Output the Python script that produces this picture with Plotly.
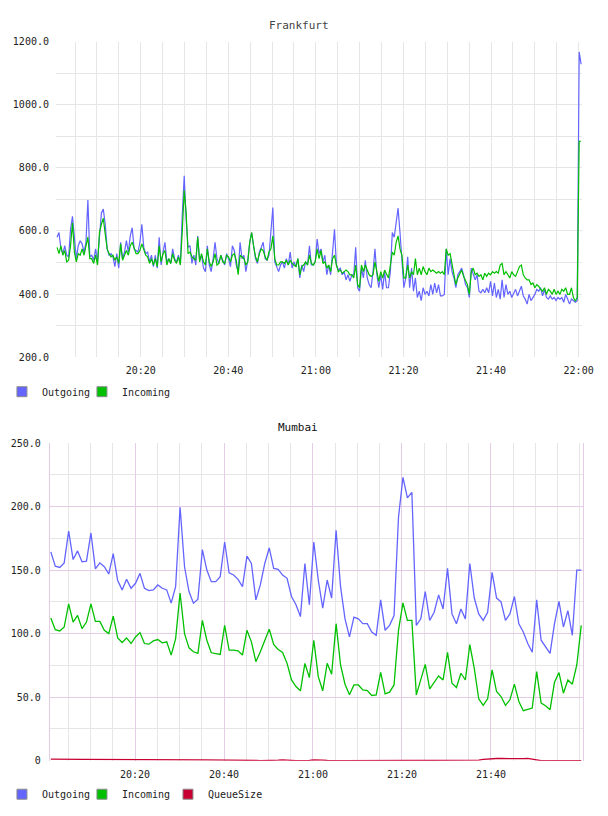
import pandas as pd
import plotly.graph_objects as go

# ---------------- data ----------------
DAY = "2024-01-01"

FRA_TIME_START = DAY + " 20:00:54"
FRA_TIME_END = DAY + " 22:00:34"

fra_outgoing = [
    580, 595, 543, 528, 553, 523, 518, 605, 646, 564,
    512, 553, 569, 559, 533, 564, 698, 518, 523, 507,
    543, 502, 595, 657, 669, 621, 543, 523, 528, 518,
    487, 528, 482, 564, 512, 533, 569, 533, 584, 610,
    543, 538, 533, 564, 621, 548, 528, 533, 502, 523,
    487, 523, 482, 580, 492, 533, 564, 502, 512, 497,
    543, 512, 502, 523, 497, 652, 775, 636, 548, 553,
    497, 523, 492, 584, 507, 523, 482, 471, 553, 492,
    471, 512, 564, 512, 497, 523, 507, 492, 528, 512,
    487, 553, 538, 492, 471, 564, 512, 523, 471, 507,
    564, 595, 553, 512, 497, 533, 548, 564, 512, 507,
    523, 615, 674, 502, 487, 471, 492, 502, 482, 512,
    492, 533, 482, 502, 487, 512, 451, 492, 471, 502,
    492, 553, 492, 492, 502, 574, 528, 543, 502,
    523, 461, 492, 461, 533, 605, 492, 476, 482, 461,
    471, 445, 461, 440, 461, 461, 548, 420, 409, 482,
    451, 507, 451, 430, 420, 471, 543, 461, 420, 461,
    415, 471, 420, 420, 471, 595, 580, 626, 672, 595,
    492, 420, 451, 518, 420, 482, 409, 451, 389, 409,
    379, 420, 399, 409, 394, 430, 399, 435, 404, 430,
    394, 394, 399, 543, 461, 512, 471, 451, 420,
    461, 471, 482, 461, 430, 420, 389, 482, 461, 445,
    461, 409, 404, 415, 404, 420, 404, 440, 394, 435,
    389, 415, 384, 445, 389, 430, 399, 409, 389, 404,
    415, 394, 409, 425, 394, 384, 368, 399, 379, 389,
    399, 415, 409, 420, 394, 415, 389, 384, 394, 384,
    389, 379, 389, 384, 389, 374, 399, 384, 368, 384,
    379, 374, 379, 1167, 1128,
]

fra_incoming = [
    548, 528, 553, 523, 538, 502, 507, 553, 626, 533,
    502, 528, 523, 543, 523, 553, 580, 512, 512, 497,
    523, 492, 595, 621, 640, 590, 543, 528, 518, 523,
    507, 518, 497, 559, 507, 523, 538, 523, 553, 564,
    543, 528, 528, 538, 559, 543, 523, 518, 497, 512,
    492, 512, 487, 553, 502, 528, 538, 492, 512, 497,
    528, 507, 497, 518, 492, 600, 729, 657, 528, 533,
    518, 512, 507, 580, 502, 528, 502, 492, 543, 502,
    487, 502, 528, 492, 497, 523, 502, 497, 523, 518,
    502, 523, 528, 507, 461, 523, 518, 512, 492, 502,
    564, 595, 553, 518, 502, 528, 543, 538, 518, 507,
    533, 543, 584, 512, 492, 492, 502, 502, 497, 507,
    492, 507, 497, 492, 487, 512, 461, 487, 492, 502,
    492, 523, 497, 492, 502, 543, 512, 538, 497,
    502, 482, 492, 471, 512, 523, 492, 471, 476, 466,
    471, 476, 471, 461, 461, 451, 492, 430, 420, 492,
    471, 492, 476, 461, 456, 461, 502, 471, 440, 471,
    451, 476, 461, 451, 492, 533, 523, 564, 584, 543,
    523, 451, 451, 492, 451, 471, 461, 512, 461, 482,
    461, 487, 471, 461, 482, 471, 476, 471, 466, 471,
    466, 471, 461, 543, 523, 528, 492, 461, 430,
    451, 466, 476, 456, 440, 430, 399, 471, 482, 461,
    466, 456, 461, 445, 466, 456, 466, 461, 471, 466,
    471, 466, 492, 497, 461, 471, 461, 451, 471, 461,
    456, 471, 487, 492, 461, 451, 445, 445, 430, 435,
    420, 430, 425, 415, 409, 420, 399, 415, 409, 399,
    415, 399, 409, 399, 415, 409, 420, 399, 399, 420,
    389, 378, 389, 884, 884,
]

MUM_TIME_START = DAY + " 20:01:04"
MUM_TIME_END = DAY + " 22:00:18"

mum_outgoing = [
    164.3, 153.1, 152.1, 155.7, 180.7, 158.3, 165.1, 156.5, 157.0, 179.2,
    151.0, 155.7, 152.6, 146.9, 163.0, 141.7, 134.4, 142.7, 135.7, 139.6,
    147.4, 135.7, 133.9, 134.4, 138.3, 135.7, 134.4, 124.0, 137.0, 199.5,
    152.6, 133.1, 124.0, 127.1, 166.1, 150.0, 140.9, 140.9, 144.8, 172.1,
    147.9, 146.1, 142.7, 137.0, 161.0, 155.2, 126.6, 138.3, 155.2, 167.4,
    151.3, 150.5, 146.1, 143.5, 129.2, 122.7, 113.4,
    155.2, 122.7, 172.1, 142.2, 120.0, 142.2, 127.9, 181.3, 137.0, 111.6,
    97.4, 113.0, 111.6, 107.8, 107.8, 101.3, 98.7, 126.6, 102.6, 106.5,
    114.2, 191.7, 222.9, 206.8, 211.2, 106.5, 111.6, 133.1, 110.4, 116.8,
    130.5, 119.4, 151.3, 115.5, 107.8, 119.4, 111.6, 155.2, 128.0, 115.5,
    110.4, 116.8, 148.2, 128.0, 125.0, 110.4, 115.5, 129.2, 107.8, 101.3,
    92.2, 85.3, 126.6, 94.8, 89.6, 84.5, 107.8, 125.3, 105.2, 118.1,
    98.7, 150.0, 150.0,
]

mum_incoming = [
    112.2, 103.1, 102.1, 105.2, 123.4, 109.1, 114.3, 103.9, 109.1, 123.4,
    109.6, 109.6, 102.6, 100.0, 113.8, 96.6, 93.0, 96.6, 92.2, 97.4,
    100.8, 92.2, 91.7, 94.3, 95.3, 92.7, 93.5, 83.1, 96.1, 132.0,
    100.0, 88.8, 85.7, 84.4, 110.4, 94.8, 84.9, 84.4, 83.6, 106.5,
    87.0, 87.0, 86.5, 83.1, 102.6, 93.5, 77.9, 85.7, 94.8, 103.4,
    91.4, 87.5, 85.2, 76.6, 63.5, 58.3, 55.0, 76.6, 65.4, 94.8,
    66.1, 55.0, 76.6, 68.0, 107.8, 75.3, 60.2, 51.8, 59.6, 59.6,
    55.7, 55.2, 51.3, 51.8, 69.5, 52.6, 53.9, 59.6, 102.6, 124.2,
    110.4, 110.4, 51.8, 63.5, 75.8, 56.5, 61.7, 66.7, 63.5, 85.2,
    60.9, 57.6, 68.8, 63.5, 91.4, 72.7, 48.7, 43.5, 48.7, 71.4,
    54.4, 50.5, 43.5, 47.9, 60.2, 46.6, 39.3, 40.6, 41.4, 70.1,
    45.3, 43.2, 40.1, 61.7, 69.3, 53.1, 63.5, 60.2, 75.3, 106.5,
]

mum_queuesize = [
    1.2, 1.1, 1.0, 1.0, 0.9, 0.9, 0.9, 1.0, 1.0, 1.0,
    1.0, 1.0, 1.1, 1.1, 1.1, 1.2, 1.2, 1.2, 1.2, 1.2,
    1.2, 1.1, 1.1, 1.0, 1.0, 0.9, 0.9, 0.8, 0.8, 0.8,
    0.7, 0.7, 0.7, 0.7, 0.6, 0.6, 0.6, 0.6, 0.5, 0.5,
    0.5, 0.5, 0.4, 0.4, 0.3, 0.3, 0.2, 0.0, 0.0, 0.0,
    0.0, 0.4, 0.6, 0.6, 0.3, 0.0, 0.0, 0.0, 0.3, 0.7,
    0.8, 0.5, 0.2, 0.0, 0.0, 0.0, 0.0, 0.0, 0.0, 0.0,
    0.0, 0.0, 0.0, 0.0, 0.0, 0.0, 0.0, 0.0, 0.0, 0.0,
    0.0, 0.0, 0.0, 0.0, 0.0, 0.0, 0.0, 0.0, 0.0, 0.0,
    0.0, 0.0, 0.0, 0.0, 0.0, 0.0, 0.4, 1.0, 1.4, 1.6,
    1.7, 1.7, 1.6, 1.7, 1.7, 1.5, 1.6, 1.8, 1.2, 0.4,
    0.0, 0.0, 0.0, 0.0, 0.0, 0.0, 0.0, 0.0, 0.0, 0.0,
]

SERIES_NAMES = ["Outgoing", "Incoming", "QueueSize"]
CHART_TITLES = ["Frankfurt", "Mumbai"]

FRA_X_TICKS = ["20:20", "20:40", "21:00", "21:20", "21:40", "22:00"]
MUM_X_TICKS = ["20:20", "20:40", "21:00", "21:20", "21:40"]
FRA_Y_TICKS = [200, 400, 600, 800, 1000, 1200]
FRA_Y_LABELS = ["200.0", "400.0", "600.0", "800.0", "1000.0", "1200.0"]
MUM_Y_TICKS = [0, 50, 100, 150, 200, 250]
MUM_Y_LABELS = ["0", "50.0", "100.0", "150.0", "200.0", "250.0"]

# ---------------- styling ----------------
W, H = 608, 816
BLUE = "#6464ff"
GREEN = "#00c000"
RED = "#c80032"
COLORS = [BLUE, GREEN, RED]
MONO = "DejaVu Sans Mono"
FRA_GRID = "#e6e6e6"
MUM_MAJOR = "#e4cde4"
MUM_MINOR = "#e6e6e6"


def fx(px):
    return px / W


def fy(py):
    return 1 - py / H


fra_t = pd.date_range(FRA_TIME_START, FRA_TIME_END, periods=len(fra_outgoing))
mum_t = pd.date_range(MUM_TIME_START, MUM_TIME_END, periods=len(mum_outgoing))

fig = go.Figure()

# Frankfurt
for name, vals, col in [(SERIES_NAMES[0], fra_outgoing, BLUE), (SERIES_NAMES[1], fra_incoming, GREEN)]:
    fig.add_trace(go.Scatter(x=fra_t, y=vals, mode="lines", name=name,
                             line=dict(color=col, width=1.2),
                             xaxis="x", yaxis="y", showlegend=False))
# Mumbai
for name, vals, col in [(SERIES_NAMES[0], mum_outgoing, BLUE), (SERIES_NAMES[1], mum_incoming, GREEN),
                        (SERIES_NAMES[2], mum_queuesize, RED)]:
    fig.add_trace(go.Scatter(x=mum_t, y=vals, mode="lines", name=name,
                             line=dict(color=col, width=1.3),
                             xaxis="x2", yaxis="y2", showlegend=False))

# legend entries (square swatches)
lw_fra = [35, 60]
for i in range(2):
    fig.add_trace(go.Scatter(x=[None], y=[None], mode="markers", name=SERIES_NAMES[i],
                             marker=dict(symbol="square", size=10, color=COLORS[i],
                                         line=dict(color="#8c8c8c", width=1)),
                             xaxis="x", yaxis="y", legend="legend", legendwidth=lw_fra[i]))
lw_mum = [35, 41, 65]
for i in range(3):
    fig.add_trace(go.Scatter(x=[None], y=[None], mode="markers", name=SERIES_NAMES[i],
                             marker=dict(symbol="square", size=10, color=COLORS[i],
                                         line=dict(color="#8c8c8c", width=1)),
                             xaxis="x2", yaxis="y2", legend="legend2", legendwidth=lw_mum[i]))

tick_font = dict(family=MONO, size=10, color="#222222")
leg_font = dict(family=MONO, size=10, color="#222222")

fig.update_layout(
    width=W, height=H,
    margin=dict(l=0, r=0, t=0, b=0),
    paper_bgcolor="white", plot_bgcolor="white",
    showlegend=True,
    xaxis=dict(
        domain=[fx(57), fx(593)], anchor="y", type="date",
        range=[DAY + " 20:00:39", DAY + " 22:00:50"],
        tickmode="array", tickvals=[DAY + " " + t for t in FRA_X_TICKS], ticktext=FRA_X_TICKS,
        showgrid=True, gridcolor=FRA_GRID, gridwidth=1,
        minor=dict(dtick=300000, tick0=DAY + " 20:00:00", showgrid=True, gridcolor=FRA_GRID, gridwidth=1),
        showline=False, zeroline=False, ticks="", tickfont=tick_font, ticklabelstandoff=6,
    ),
    yaxis=dict(
        domain=[fy(357), fy(37)], anchor="x",
        range=[200, 1200], tickmode="array", tickvals=FRA_Y_TICKS, ticktext=FRA_Y_LABELS,
        showgrid=False,
        minor=dict(dtick=100, tick0=0, showgrid=True, gridcolor=FRA_GRID, gridwidth=1),
        showline=False, zeroline=False, ticks="", tickfont=tick_font, ticklabelstandoff=6,
    ),
    xaxis2=dict(
        domain=[fx(50.7), fx(594)], anchor="y2", type="date",
        range=[DAY + " 20:00:50", DAY + " 22:00:45"],
        tickmode="array", tickvals=[DAY + " " + t for t in MUM_X_TICKS], ticktext=MUM_X_TICKS,
        showgrid=True, gridcolor=MUM_MAJOR, gridwidth=1,
        minor=dict(dtick=300000, tick0=DAY + " 20:00:00", showgrid=True, gridcolor=MUM_MINOR, gridwidth=1),
        showline=False, zeroline=False, ticks="", tickfont=tick_font, ticklabelstandoff=6,
    ),
    yaxis2=dict(
        domain=[fy(766), fy(444)], anchor="x2",
        range=[0, 250], tickmode="array", tickvals=MUM_Y_TICKS, ticktext=MUM_Y_LABELS,
        showgrid=True, gridcolor=MUM_MAJOR, gridwidth=1,
        minor=dict(dtick=25, tick0=0, showgrid=True, gridcolor=MUM_MINOR, gridwidth=1),
        showline=True, mirror=True, linecolor=MUM_MAJOR, linewidth=1,
        zeroline=False, ticks="", tickfont=tick_font, ticklabelstandoff=6,
    ),
    legend=dict(orientation="h", x=fx(2), y=fy(392), xanchor="left", yanchor="middle",
                font=leg_font, bgcolor="rgba(0,0,0,0)", itemwidth=30, traceorder="normal"),
    legend2=dict(orientation="h", x=fx(2), y=fy(800), xanchor="left", yanchor="middle",
                 font=leg_font, bgcolor="rgba(0,0,0,0)", itemwidth=30, traceorder="normal"),
    annotations=[
        dict(text=CHART_TITLES[0], x=fx(304), y=fy(20.5), xref="paper", yref="paper",
             xanchor="center", yanchor="middle", showarrow=False,
             font=dict(family=MONO, size=11, color="#444444")),
        dict(text=CHART_TITLES[1], x=fx(303), y=fy(428.5), xref="paper", yref="paper",
             xanchor="center", yanchor="middle", showarrow=False,
             font=dict(family=MONO, size=11, color="#111111")),
    ],
)

fig.write_html("out.html")
